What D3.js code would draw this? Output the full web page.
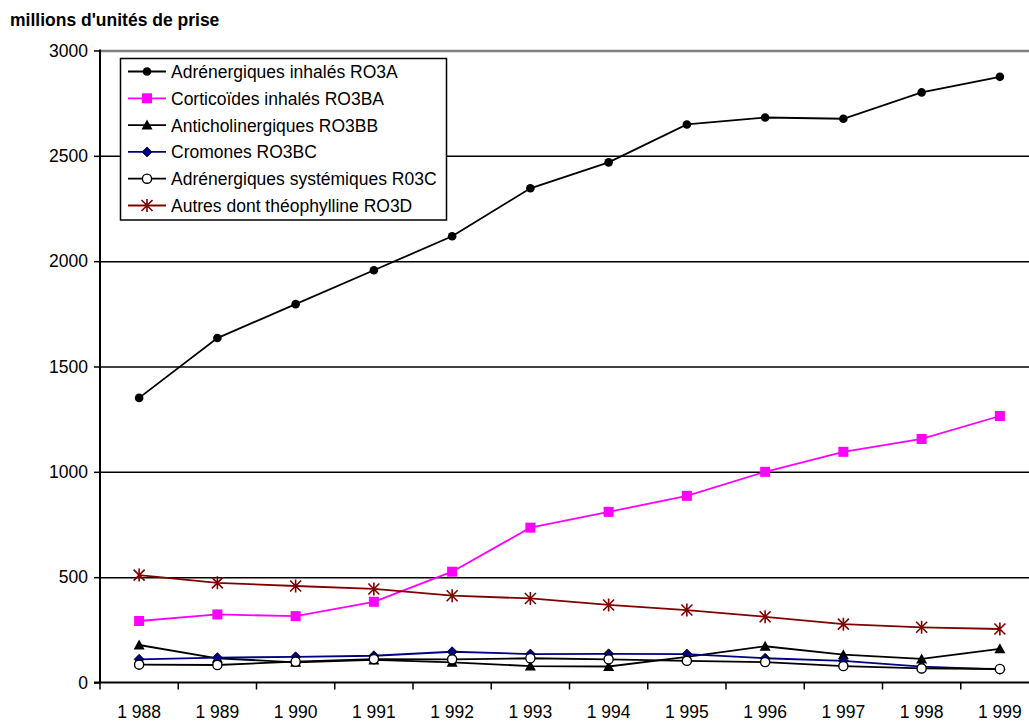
<!DOCTYPE html>
<html>
<head>
<meta charset="utf-8">
<script src="https://cdn.jsdelivr.net/npm/d3@7"></script>
<style>
  html, body { margin: 0; padding: 0; background: #fff; }
  svg { display: block; font-family: "Liberation Sans", Arial, sans-serif; }
</style>
</head>
<body>
<svg id="chart" width="1029" height="722"></svg>
<script>
// Années (catégories de l'axe horizontal)
const years = ["1 988", "1 989", "1 990", "1 991", "1 992", "1 993", "1 994", "1 995", "1 996", "1 997", "1 998", "1 999"];
const yTicks = [0, 500, 1000, 1500, 2000, 2500, 3000];

// Millions d'unités de prise par classe
const adrenergiquesInhales = [1351, 1635, 1796, 1957, 2118, 2346, 2469, 2649, 2682, 2676, 2801, 2875];
const corticoidesInhales   = [292, 323, 315, 383, 526, 735, 810, 886, 1000, 1095, 1156, 1265];
const anticholinergiques   = [178, 115, 96, 107, 96, 78, 76, 122, 172, 132, 112, 160];
const cromones             = [110, 118, 122, 127, 146, 135, 136, 135, 115, 103, 75, 62];
const adrenergiquesSyst    = [85, 83, 99, 111, 110, 115, 110, 103, 97, 78, 67, 64];
const autresTheophylline   = [510, 473, 458, 444, 412, 399, 368, 344, 312, 277, 262, 254];

const seriesNames = [
  "Adrénergiques inhalés RO3A",
  "Corticoïdes inhalés RO3BA",
  "Anticholinergiques RO3BB",
  "Cromones RO3BC",
  "Adrénergiques systémiques R03C",
  "Autres dont théophylline RO3D"
];

const series = [
  { name: seriesNames[0], values: adrenergiquesInhales, color: "#000000", marker: "dot" },
  { name: seriesNames[1], values: corticoidesInhales,   color: "#ff00ff", marker: "square" },
  { name: seriesNames[2], values: anticholinergiques,   color: "#000000", marker: "triangle" },
  { name: seriesNames[3], values: cromones,             color: "#000080", marker: "diamond" },
  { name: seriesNames[4], values: adrenergiquesSyst,    color: "#000000", marker: "ring" },
  { name: seriesNames[5], values: autresTheophylline,   color: "#800000", marker: "star" }
];

const svg = d3.select("#chart");
const plot = { left: 100, top: 50.5, bottom: 682.5, bandW: 78.25 };
const fontSize = 17.5;

const x = d3.scaleBand()
  .domain(years)
  .range([plot.left, plot.left + plot.bandW * years.length])
  .paddingInner(0).paddingOuter(0);

const y = d3.scaleLinear().domain([0, 3000]).range([plot.bottom, plot.top]);

const cx = d => x(d) + x.bandwidth() / 2;

// Lignes de quadrillage horizontales
const grid = svg.append("g").attr("transform", `translate(${plot.left},0)`)
  .call(d3.axisLeft(y).tickValues(yTicks.filter(v => v > 0)).tickSize(-(1029 - plot.left)).tickFormat(""));
grid.select(".domain").remove();
grid.selectAll(".tick line")
  .attr("stroke", d => d === 3000 ? "#808080" : "#000")
  .attr("stroke-width", d => d === 3000 ? 2.5 : 1.5);

// Axe vertical
const yAxis = svg.append("g").attr("transform", `translate(${plot.left},0)`)
  .call(d3.axisLeft(y).tickValues(yTicks).tickSize(6).tickPadding(6).tickFormat(d3.format("d")));
yAxis.select(".domain").attr("stroke", "#000").attr("stroke-width", 2)
  .attr("d", `M0,${plot.bottom}V${plot.top - 1}`);
yAxis.selectAll(".tick line").attr("stroke", "#000").attr("stroke-width", 1.5);
yAxis.selectAll(".tick text").attr("font-size", fontSize).attr("fill", "#000")
  .attr("font-family", "Liberation Sans, Arial, sans-serif");

// Axe horizontal : étiquettes centrées, graduations entre les années
const xAxis = svg.append("g").attr("transform", `translate(0,${plot.bottom})`)
  .call(d3.axisBottom(x).tickSize(0).tickPadding(23));
xAxis.select(".domain").attr("stroke", "#000").attr("stroke-width", 2)
  .attr("d", `M${plot.left - 6},0H1029`);
xAxis.selectAll(".tick text").attr("font-size", fontSize).attr("fill", "#000")
  .attr("font-family", "Liberation Sans, Arial, sans-serif");

const boundaries = years.map(d => x(d)).concat([x.range()[1]]);
svg.append("g").selectAll("line").data(boundaries).join("line")
  .attr("x1", d => d).attr("x2", d => d)
  .attr("y1", plot.bottom).attr("y2", plot.bottom + 7)
  .attr("stroke", "#000").attr("stroke-width", 1.5);

// Marqueurs
function drawMarker(g, type, color) {
  switch (type) {
    case "dot":
      g.append("circle").attr("r", 4.3).attr("fill", "#000");
      break;
    case "square":
      g.append("rect").attr("x", -5).attr("y", -5).attr("width", 10).attr("height", 10).attr("fill", color);
      break;
    case "triangle":
      g.append("path").attr("d", "M0,-5.5L5.5,4.5L-5.5,4.5Z").attr("fill", "#000");
      break;
    case "diamond":
      g.append("path").attr("d", "M0,-5L5,0L0,5L-5,0Z").attr("fill", color).attr("stroke", "#000").attr("stroke-width", 0.8);
      break;
    case "ring":
      g.append("circle").attr("r", 4.6).attr("fill", "#fff").attr("stroke", "#000").attr("stroke-width", 1.4);
      break;
    case "star":
      g.append("path").attr("d", "M0,-6.5V6.5M-5.5,-5.5L5.5,5.5M-5.5,5.5L5.5,-5.5")
        .attr("stroke", color).attr("stroke-width", 1.6).attr("fill", "none");
      break;
  }
}

const line = d3.line().x((v, i) => cx(years[i])).y(v => y(v));

series.forEach(s => {
  const g = svg.append("g");
  g.append("path").datum(s.values).attr("d", line)
    .attr("fill", "none").attr("stroke", s.color).attr("stroke-width", 1.8);
  s.values.forEach((v, i) => {
    const m = g.append("g").attr("transform", `translate(${cx(years[i])},${y(v)})`);
    drawMarker(m, s.marker, s.color);
  });
});

// Légende
const legend = svg.append("g");
legend.append("rect").attr("x", 120.5).attr("y", 58.5).attr("width", 326).attr("height", 161.5)
  .attr("fill", "#fff").attr("stroke", "#000").attr("stroke-width", 1.5);
series.forEach((s, i) => {
  const ly = 71.5 + i * 26.8;
  const row = legend.append("g");
  row.append("line").attr("x1", 128).attr("x2", 166).attr("y1", ly).attr("y2", ly)
    .attr("stroke", s.color).attr("stroke-width", 1.8);
  const m = row.append("g").attr("transform", `translate(147,${ly})`);
  drawMarker(m, s.marker, s.color);
  row.append("text").attr("x", 171).attr("y", ly + 6.5)
    .attr("font-size", fontSize).attr("fill", "#000").text(s.name);
});

// Titre de l'axe
svg.append("text").attr("x", 10).attr("y", 26)
  .attr("font-size", 17.5).attr("font-weight", "bold").attr("fill", "#000")
  .text("millions d'unités de prise");
</script>
</body>
</html>
